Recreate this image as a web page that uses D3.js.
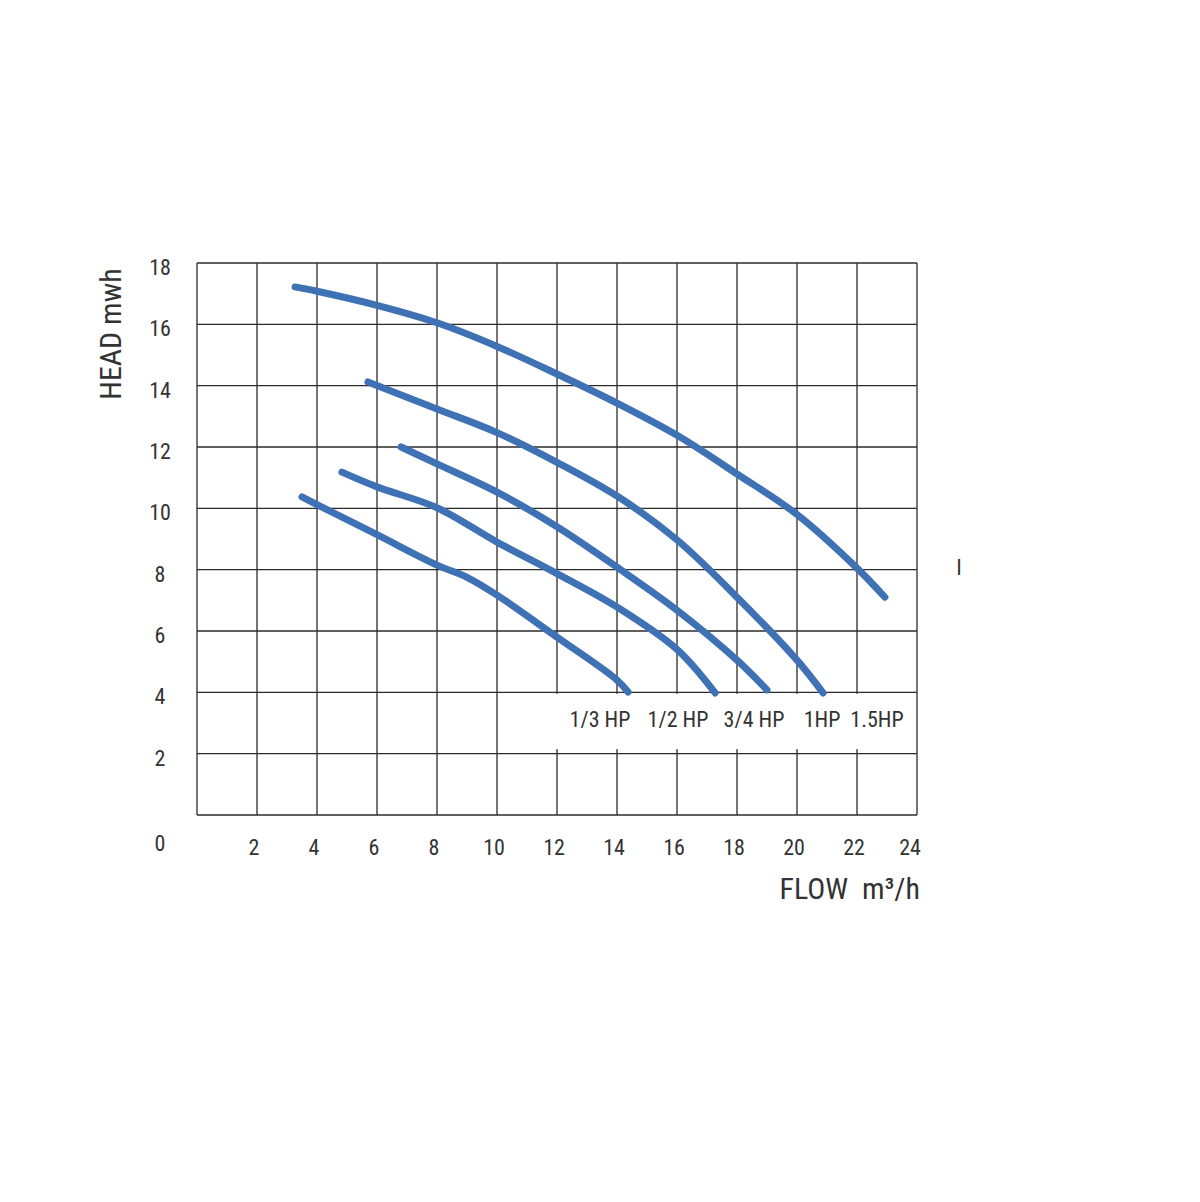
<!DOCTYPE html>
<html>
<head>
<meta charset="utf-8">
<script src="https://cdn.jsdelivr.net/npm/d3@7"></script>
<style>
  html, body { margin: 0; padding: 0; background: #fff; }
  svg text { font-family: "Liberation Sans Narrow", "Roboto Condensed", "DejaVu Sans Condensed", "Liberation Sans", sans-serif; fill: #333; }
</style>
</head>
<body>
<div id="chart"></div>
<script>
// axis ticks
const xTicks = [2, 4, 6, 8, 10, 12, 14, 16, 18, 20, 22, 24];
const yTicks = [18, 16, 14, 12, 10, 8, 6, 4, 2, 0];

// pump curves, flow (m3/h) vs head (m)
const seriesNames = ["1/3 HP", "1/2 HP", "3/4 HP", "1HP", "1.5HP"];
const flow13 = [3.5, 4, 6, 8, 9, 10, 12, 14, 14.37];
const head13 = [10.37, 10.12, 9.14, 8.15, 7.75, 7.17, 5.8, 4.4, 4.01];
const flow12 = [4.83, 6, 8, 10, 12, 14, 16, 17.27];
const head12 = [11.18, 10.7, 10.02, 8.9, 7.87, 6.78, 5.4, 3.98];
const flow34 = [6.8, 8, 10, 12, 14, 16, 18, 19];
const head34 = [12.0, 11.45, 10.53, 9.4, 8.08, 6.68, 5.05, 4.08];
const flow1 = [5.7, 8, 10, 12, 14, 16, 18, 20, 20.87];
const head1 = [14.12, 13.24, 12.47, 11.5, 10.4, 8.97, 7.1, 5.05, 3.98];
const flow15 = [3.27, 4, 6, 8, 10, 12, 14, 16, 18, 20, 22, 22.93];
const head15 = [17.22, 17.08, 16.62, 16.05, 15.28, 14.38, 13.43, 12.38, 11.12, 9.8, 8.05, 7.1];

const series = [
  { name: seriesNames[0], xs: flow13, ys: head13 },
  { name: seriesNames[1], xs: flow12, ys: head12 },
  { name: seriesNames[2], xs: flow34, ys: head34 },
  { name: seriesNames[3], xs: flow1, ys: head1 },
  { name: seriesNames[4], xs: flow15, ys: head15 }
].map(s => ({ name: s.name, pts: s.xs.map((x, i) => [x, s.ys[i]]) }));

const W = 1200, H = 1202;
const svg = d3.select("#chart").append("svg")
  .attr("width", W).attr("height", H);

const x = d3.scaleLinear().domain([0, 24]).range([197, 917]);
const y = d3.scaleLinear().domain([0, 18]).range([815, 263]);

const grid = svg.append("g")
  .attr("stroke", "#2b2b2b").attr("stroke-width", 1.3);

// grid lines
grid.selectAll("line.v")
  .data(d3.range(0, 25, 2)).enter().append("line")
    .attr("x1", d => x(d)).attr("x2", d => x(d))
    .attr("y1", y(18)).attr("y2", y(0));
grid.selectAll("line.h")
  .data(d3.range(0, 19, 2)).enter().append("line")
    .attr("x1", x(0)).attr("x2", x(24))
    .attr("y1", d => y(d)).attr("y2", d => y(d));

// white strip holding the curve names
svg.append("rect")
  .attr("x", x(10) + 25).attr("y", y(4) + 1.5)
  .attr("width", x(24) - x(10) - 26).attr("height", y(2) - y(4) - 6)
  .attr("fill", "#fff");

// curves
const line = d3.line()
  .x(d => x(d[0])).y(d => y(d[1]))
  .curve(d3.curveCatmullRom.alpha(0.5));

svg.append("g").selectAll("path")
  .data(series).enter().append("path")
    .attr("d", d => line(d.pts))
    .attr("fill", "none")
    .attr("stroke", "#3f71b5")
    .attr("stroke-width", 7)
    .attr("stroke-linecap", "round")
    .attr("stroke-linejoin", "round");

// curve names
const labelCx = [600, 678, 754, 822, 877];
svg.append("g").selectAll("text")
  .data(seriesNames).enter().append("text")
    .attr("x", (d, i) => labelCx[i])
    .attr("y", 727)
    .attr("text-anchor", "middle")
    .attr("font-size", 22)
    .text(d => d);

// x tick labels
const labelRow = 855;
svg.append("g").selectAll("text")
  .data(xTicks).enter().append("text")
    .attr("x", d => x(d) - (d === 24 ? 7 : 3))
    .attr("y", labelRow)
    .attr("text-anchor", "middle")
    .attr("font-size", 22)
    .text(d => d);

// y tick labels (the 0 sits on the x label row)
svg.append("g").selectAll("text")
  .data(yTicks).enter().append("text")
    .attr("x", 160)
    .attr("y", d => d === 0 ? labelRow - 4 : y(d) + 12)
    .attr("text-anchor", "middle")
    .attr("font-size", 22)
    .text(d => d);

// axis titles
svg.append("text")
  .attr("transform", "translate(121,334) rotate(-90)")
  .attr("text-anchor", "middle")
  .attr("font-size", 30)
  .text("HEAD mwh");

svg.append("text")
  .attr("x", 920).attr("y", 899)
  .attr("text-anchor", "end")
  .attr("font-size", 30)
  .style("white-space", "pre")
  .text("FLOW  m³/h");

// stray mark at right of the plot
svg.append("text")
  .attr("x", 959).attr("y", 575)
  .attr("text-anchor", "middle")
  .attr("font-size", 22)
  .text("I");
</script>
</body>
</html>
